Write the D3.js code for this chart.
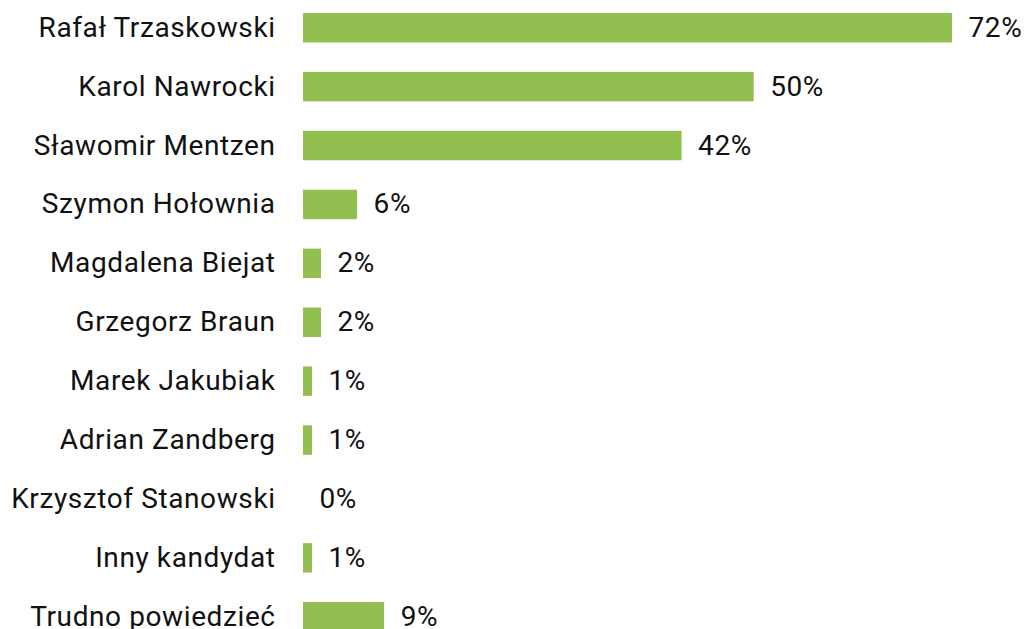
<!DOCTYPE html>
<html>
<head>
<meta charset="utf-8">
<script src="https://cdn.jsdelivr.net/npm/d3@7"></script>
<style>
  html, body { margin: 0; padding: 0; background: #ffffff; }
  svg { display: block; }
  text { font-family: Roboto, "Noto Sans", sans-serif; fill: #111111; letter-spacing: 0.6px; }
</style>
</head>
<body>
<svg id="chart" width="1024" height="629"></svg>
<script>
const categories = [
  "Rafał Trzaskowski",
  "Karol Nawrocki",
  "Sławomir Mentzen",
  "Szymon Hołownia",
  "Magdalena Biejat",
  "Grzegorz Braun",
  "Marek Jakubiak",
  "Adrian Zandberg",
  "Krzysztof Stanowski",
  "Inny kandydat",
  "Trudno powiedzieć"
];
const values = [72, 50, 42, 6, 2, 2, 1, 1, 0, 1, 9];

const svg = d3.select("#chart");
const x = d3.scaleLinear().domain([0, 72]).range([303, 952]);
const y = d3.scaleBand().domain(categories).range([-1.7, 646.2])
  .paddingInner(0.5).paddingOuter(0.25);

const data = categories.map((c, i) => ({ c, v: values[i] }));

svg.selectAll("rect.bar").data(data).join("rect")
  .attr("class", "bar")
  .attr("x", x(0))
  .attr("y", d => y(d.c))
  .attr("width", d => x(d.v) - x(0))
  .attr("height", y.bandwidth())
  .attr("fill", "#92c050");

svg.selectAll("text.cat").data(data).join("text")
  .attr("class", "cat")
  .attr("x", 275.6)
  .attr("y", d => y(d.c) + y.bandwidth() / 2)
  .attr("dy", "0.32em")
  .attr("text-anchor", "end")
  .attr("font-size", 28)
  .text(d => d.c);

svg.selectAll("text.val").data(data).join("text")
  .attr("class", "val")
  .attr("x", d => x(d.v) + 16.5)
  .attr("y", d => y(d.c) + y.bandwidth() / 2)
  .attr("dy", "0.32em")
  .attr("font-size", 28)
  .text(d => d.v + "%");
</script>
</body>
</html>
